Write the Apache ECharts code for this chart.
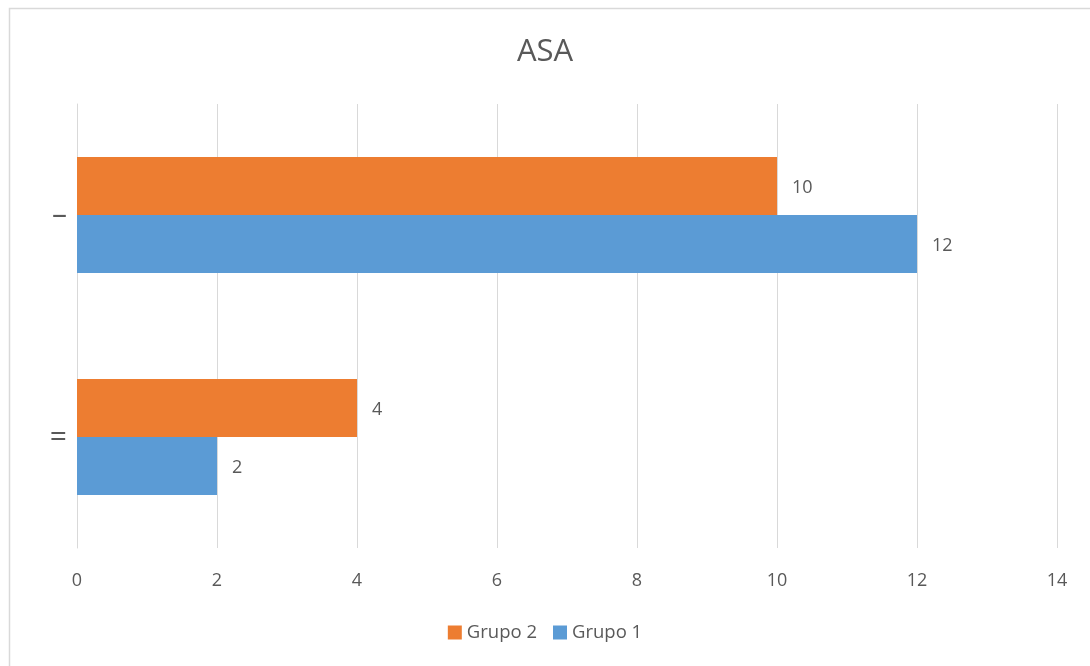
<!DOCTYPE html>
<html>
<head>
<meta charset="utf-8">
<script src="https://cdn.jsdelivr.net/npm/echarts@6/dist/echarts.min.js"></script>
<style>
html,body{margin:0;padding:0;background:#fff;}
#c{width:1090px;height:666px;}
</style>
</head>
<body>
<div id="c"></div>
<script>
const categories = ['=', '–'];
const grupo1 = [2, 12];
const grupo2 = [4, 10];
const xTicks = [0, 2, 4, 6, 8, 10, 12, 14];

const chart = echarts.init(document.getElementById('c'), null, {renderer: 'canvas'});
const font = '"Open Sans", "Noto Sans", sans-serif';
const gray = '#595959';
chart.setOption({
  backgroundColor: '#fff',
  animation: false,
  graphic: [{
    type: 'rect', left: 7, top: 6, z: -1,
    shape: {width: 1100, height: 680},
    style: {fill: 'none', stroke: '#D9D9D9', lineWidth: 1.5}
  }],
  title: {
    text: 'ASA', left: 'center', top: 32,
    textStyle: {fontFamily: font, fontSize: 31, fontWeight: 'normal', color: gray}
  },
  legend: {
    data: ['Grupo 2', 'Grupo 1'], bottom: 19, left: 'center',
    icon: 'rect', itemWidth: 14, itemHeight: 14, itemGap: 16,
    textStyle: {fontFamily: font, fontSize: 18.5, color: gray}
  },
  grid: {left: 77, right: 33, top: 104, bottom: 118, containLabel: false},
  xAxis: {
    type: 'value', min: 0, max: 14, interval: 2,
    axisLine: {show: false}, axisTick: {show: false},
    axisLabel: {fontFamily: font, fontSize: 18, color: gray, margin: 24,
      formatter: v => xTicks.includes(v) ? String(v) : ''},
    splitLine: {lineStyle: {color: '#D9D9D9', width: 1}}
  },
  yAxis: {
    type: 'category', data: categories,
    axisLine: {show: true, lineStyle: {color: '#D9D9D9'}}, axisTick: {show: false},
    axisLabel: {fontFamily: font, fontSize: 30, color: gray, margin: 10}
  },
  series: [
    {
      name: 'Grupo 2', type: 'bar', data: grupo2, barWidth: 58, barGap: '0%',
      itemStyle: {color: '#ED7D31'},
      label: {show: true, position: 'right', distance: 15, fontFamily: font, fontSize: 18, color: gray, offset: [0, 2]}
    },
    {
      name: 'Grupo 1', type: 'bar', data: grupo1, barWidth: 58, barGap: '0%',
      itemStyle: {color: '#5B9BD5'},
      label: {show: true, position: 'right', distance: 15, fontFamily: font, fontSize: 18, color: gray, offset: [0, 2]}
    }
  ]
});
</script>
</body>
</html>
